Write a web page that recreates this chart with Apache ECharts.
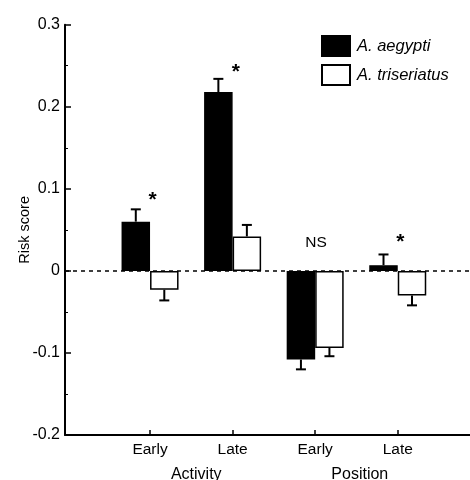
<!DOCTYPE html>
<html>
<head>
<meta charset="utf-8">
<script src="https://cdn.jsdelivr.net/npm/echarts@6/dist/echarts.min.js"></script>
<style>
  html, body { margin: 0; padding: 0; background: #fff; }
  #chart { width: 470px; height: 480px; }
</style>
</head>
<body>
<div id="chart"></div>
<script>
// category positions on the x scale, and their tick labels
const positions = [1, 2, 3, 4];
const tickLabels = ["Early", "Late", "Early", "Late"];
const groupPositions = [1.56, 3.54];
const groupLabels = ["Activity", "Position"];

const seriesNames = ["A. aegypti", "A. triseriatus"];
const aegypti = [0.060, 0.218, -0.108, 0.007];
const triseriatus = [-0.023, 0.042, -0.094, -0.030];
const errAegypti = [0.015, 0.016, 0.012, 0.013];
const errTriseriatus = [0.013, 0.014, 0.010, 0.012];

// significance marks above each pair
const markPositions = [1.03, 2.04, 3.01, 4.03];
const markValues = [0.086, 0.242, 0.034, 0.035];
const markTexts = ["*", "*", "NS", "*"];

const FONT = "Liberation Sans, Arial, Helvetica, sans-serif";
const BAR_W = 28.5;

const chart = echarts.init(document.getElementById("chart"));

function pairs(values) {
  return values.map((v, i) => [positions[i], v]);
}

function errorData(values, errs) {
  return values.map((v, i) => [positions[i], v, errs[i]]);
}

function errorBar(shift) {
  return function (params, api) {
    const x = api.value(0);
    const y = api.value(1);
    const e = api.value(2);
    const sign = y >= 0 ? 1 : -1;
    const p0 = api.coord([x, y]);
    const p1 = api.coord([x, y + sign * e]);
    const cx = p0[0] + shift;
    const style = { stroke: "#000", lineWidth: 2 };
    return {
      type: "group",
      children: [
        { type: "line", shape: { x1: cx, y1: p0[1], x2: cx, y2: p1[1] }, style },
        { type: "line", shape: { x1: cx - 5, y1: p1[1], x2: cx + 5, y2: p1[1] }, style },
      ],
    };
  };
}

chart.setOption({
  animation: false,
  backgroundColor: "#fff",
  grid: { left: 65, right: 0, top: 24.7, bottom: 45, outerBoundsMode: "none", containLabel: false },
  legend: {
    orient: "vertical",
    left: 321,
    top: 35,
    padding: 0,
    itemWidth: 28,
    itemHeight: 20,
    itemGap: 7,
    textStyle: { fontFamily: FONT, fontSize: 16.5, fontStyle: "italic", color: "#000", padding: [0, 0, 0, 2] },
    data: [
      { name: seriesNames[0], icon: "rect" },
      { name: seriesNames[1], icon: "rect" },
    ],
  },
  xAxis: [
    {
      type: "value",
      min: -0.03,
      max: 4.875,
      position: "bottom",
      splitLine: { show: false },
      axisLine: { show: true, onZero: false, lineStyle: { color: "#000", width: 2 } },
      axisTick: { show: true, inside: true, length: 5, customValues: positions, lineStyle: { color: "#000", width: 1.5 } },
      axisLabel: {
        customValues: positions,
        formatter: (v) => tickLabels[positions.indexOf(v)] || "",
        fontFamily: FONT,
        fontSize: 15.5,
        color: "#000",
        margin: 7,
      },
    },
    {
      type: "value",
      min: -0.03,
      max: 4.875,
      position: "bottom",
      splitLine: { show: false },
      axisLine: { show: false },
      axisTick: { show: false },
      axisLabel: {
        customValues: groupPositions,
        formatter: (v) => groupLabels[groupPositions.indexOf(v)] || "",
        fontFamily: FONT,
        fontSize: 16,
        color: "#000",
        margin: 32,
      },
    },
  ],
  yAxis: {
    type: "value",
    min: -0.2,
    max: 0.3,
    interval: 0.1,
    name: "Risk score",
    nameLocation: "middle",
    nameGap: 33,
    nameMoveOverlap: false,
    nameTextStyle: { fontFamily: FONT, fontSize: 14.5, color: "#000" },
    splitLine: { show: false },
    axisLine: { show: true, onZero: false, lineStyle: { color: "#000", width: 2 } },
    axisTick: { show: true, inside: true, length: 6, lineStyle: { color: "#000", width: 1.5 } },
    minorTick: { show: true, splitNumber: 2, length: 3, lineStyle: { color: "#000", width: 1 } },
    axisLabel: {
      fontFamily: FONT,
      fontSize: 16,
      color: "#000",
      margin: 5,
      formatter: (v) => (Math.abs(v) < 1e-9 ? "0" : String(Math.round(v * 10) / 10)),
    },
  },
  series: [
    {
      name: seriesNames[0],
      type: "bar",
      barWidth: BAR_W,
      barGap: "0%",
      itemStyle: { color: "#000", borderColor: "#000", borderWidth: 1.5 },
      data: pairs(aegypti),
      markLine: {
        silent: true,
        symbol: "none",
        label: { show: false },
        lineStyle: { color: "#000", type: [4, 4], width: 1.5 },
        data: [{ yAxis: 0 }],
      },
      z: 2,
    },
    {
      name: seriesNames[1],
      type: "bar",
      barWidth: BAR_W,
      barGap: "0%",
      itemStyle: { color: "#fff", borderColor: "#000", borderWidth: 1.5 },
      data: pairs(triseriatus),
      z: 3,
    },
    {
      type: "custom",
      renderItem: errorBar(-BAR_W / 2),
      encode: { x: 0, y: 1 },
      data: errorData(aegypti, errAegypti),
      z: 4,
    },
    {
      type: "custom",
      renderItem: errorBar(BAR_W / 2),
      encode: { x: 0, y: 1 },
      data: errorData(triseriatus, errTriseriatus),
      z: 4,
    },
    {
      type: "scatter",
      symbolSize: 0,
      silent: true,
      data: markPositions.map((x, i) => ({
        value: [x, markValues[i]],
        name: markTexts[i],
        label: markTexts[i] === "*" ? { fontSize: 21, fontWeight: "bold" } : { fontSize: 15.5 },
      })),
      label: {
        show: true,
        position: "inside",
        formatter: (p) => p.name,
        fontFamily: FONT,
        color: "#000",
        opacity: 1,
      },
      itemStyle: { opacity: 1 },
      z: 5,
    },
  ],
});
</script>
</body>
</html>
